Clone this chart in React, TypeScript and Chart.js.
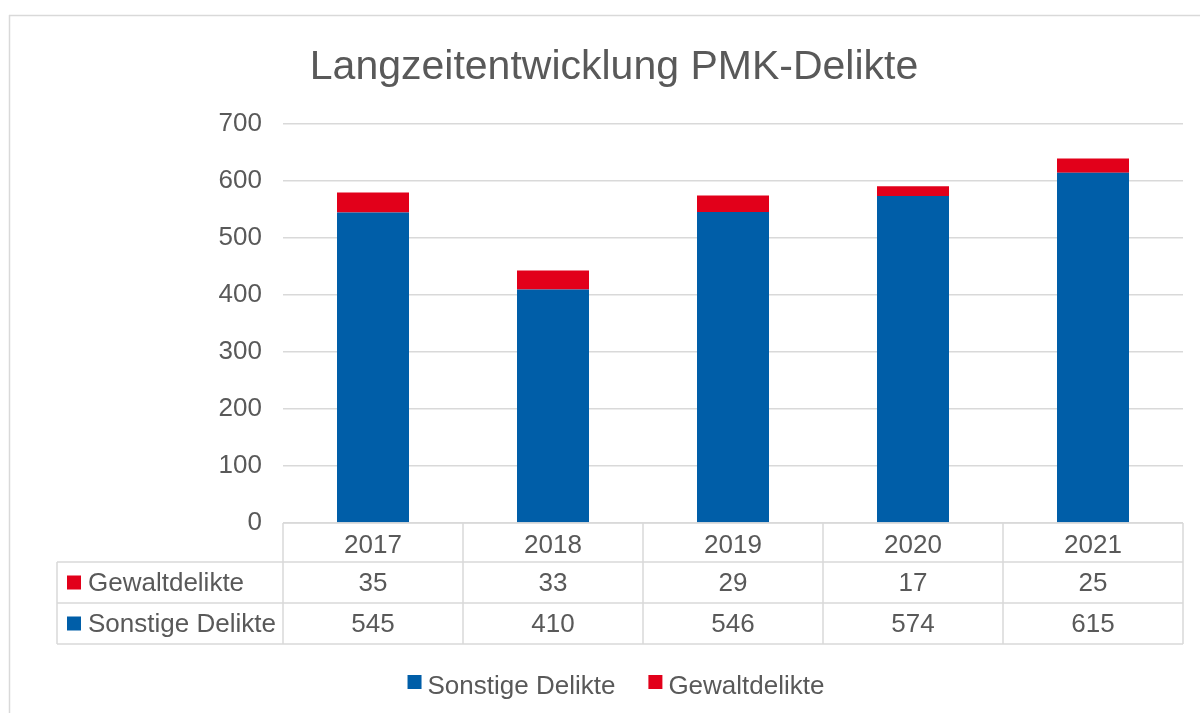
import React, { useEffect, useRef } from "react";
import { Chart, registerables } from "chart.js";

Chart.register(...registerables);

const years = ["2017", "2018", "2019", "2020", "2021"];
const sonstigeDelikte = [545, 410, 546, 574, 615];
const gewaltdelikte = [35, 33, 29, 17, 25];
const yMin = 0;
const yMax = 700;
const yStep = 100;

const seriesNames = { sonstige: "Sonstige Delikte", gewalt: "Gewaltdelikte" };
const titleText = "Langzeitentwicklung PMK-Delikte";

const BLUE = "#005EA8";
const RED = "#E2001A";
const TEXT = "#595959";
const GRID = "#D9D9D9";
const FONT = "'Liberation Sans', Arial, Helvetica, sans-serif";
const FS = 26;

const tablePlugin = {
  id: "dataTable",
  beforeDraw(chart: any) {
    const ctx = chart.ctx;
    ctx.save();
    ctx.fillStyle = "#ffffff";
    ctx.fillRect(0, 0, chart.width, chart.height);
    ctx.strokeStyle = GRID;
    ctx.lineWidth = 1.5;
    ctx.beginPath();
    ctx.moveTo(9, 15.5);
    ctx.lineTo(chart.width, 15.5);
    ctx.moveTo(9.5, 15);
    ctx.lineTo(9.5, chart.height);
    ctx.stroke();
    ctx.restore();
  },
  afterDraw(chart: any) {
    const ctx = chart.ctx;
    const xs = chart.scales.x;
    const area = chart.chartArea;
    const n = years.length;
    const half = (xs.getPixelForValue(1) - xs.getPixelForValue(0)) / 2;
    const top = area.bottom;
    const r1 = top + 39;
    const r2 = r1 + 41;
    const r3 = r2 + 41;
    const labelLeft = 57;

    ctx.save();
    ctx.strokeStyle = GRID;
    ctx.lineWidth = 1.5;
    ctx.beginPath();
    ctx.moveTo(area.left, top);
    ctx.lineTo(area.right, top);
    [r1, r2, r3].forEach((y) => {
      ctx.moveTo(labelLeft, y);
      ctx.lineTo(area.right, y);
    });
    for (let i = 0; i < n; i++) {
      const bx = xs.getPixelForValue(i) - half;
      ctx.moveTo(bx, top);
      ctx.lineTo(bx, r3);
    }
    const lastX = xs.getPixelForValue(n - 1) + half;
    ctx.moveTo(lastX, top);
    ctx.lineTo(lastX, r3);
    ctx.moveTo(labelLeft, r1);
    ctx.lineTo(labelLeft, r3);
    ctx.stroke();

    ctx.fillStyle = TEXT;
    ctx.font = `${FS}px ${FONT}`;
    ctx.textBaseline = "middle";
    ctx.textAlign = "center";
    const rows = [
      { y: (top + r1) / 2 + 3, vals: years },
      { y: (r1 + r2) / 2 + 1, vals: gewaltdelikte.map(String) },
      { y: (r2 + r3) / 2 + 1, vals: sonstigeDelikte.map(String) },
    ];
    rows.forEach((row) => {
      row.vals.forEach((v, i) => {
        ctx.fillText(v, xs.getPixelForValue(i), row.y);
      });
    });
    ctx.textAlign = "left";
    const rowLabels = [
      { y: rows[1].y, color: RED, text: seriesNames.gewalt },
      { y: rows[2].y, color: BLUE, text: seriesNames.sonstige },
    ];
    rowLabels.forEach((rl) => {
      ctx.fillStyle = rl.color;
      ctx.fillRect(67, rl.y - 8, 14, 14);
      ctx.fillStyle = TEXT;
      ctx.fillText(rl.text, 88, rl.y);
    });

    const items = [
      { color: BLUE, text: seriesNames.sonstige },
      { color: RED, text: seriesNames.gewalt },
    ];
    const box = 14;
    const gapBox = 6;
    const gapItem = 33;
    const widths = items.map((it) => box + gapBox + ctx.measureText(it.text).width);
    const total = widths[0] + widths[1] + gapItem;
    let lx = 616 - total / 2;
    const ly = 687;
    items.forEach((it, i) => {
      ctx.fillStyle = it.color;
      ctx.fillRect(lx, ly - 12, box, box);
      ctx.fillStyle = TEXT;
      ctx.fillText(it.text, lx + box + gapBox, ly);
      lx += widths[i] + gapItem;
    });
    ctx.restore();
  },
};

export default function App() {
  const ref = useRef<HTMLCanvasElement | null>(null);

  useEffect(() => {
    if (!ref.current) return;
    const chart = new Chart(ref.current, {
      type: "bar",
      data: {
        labels: years,
        datasets: [
          {
            label: seriesNames.sonstige,
            data: sonstigeDelikte,
            backgroundColor: BLUE,
            borderWidth: 0,
          },
          {
            label: seriesNames.gewalt,
            data: gewaltdelikte,
            backgroundColor: RED,
            borderWidth: 0,
          },
        ],
      },
      options: {
        responsive: false,
        animation: false,
        layout: { padding: { left: 45, right: 17, top: 0, bottom: 69 } },
        datasets: {
          bar: { barPercentage: 0.4, categoryPercentage: 1.0 },
        },
        plugins: {
          legend: { display: false },
          tooltip: { enabled: false },
          title: {
            display: true,
            text: titleText,
            color: TEXT,
            font: { family: FONT, size: 41, weight: "normal" },
            padding: { top: 43, bottom: 32 },
          },
        },
        scales: {
          x: {
            stacked: true,
            grid: { display: false },
            border: { display: false },
            ticks: { display: false },
            afterFit: (scale: any) => {
              scale.height = 121;
            },
          },
          y: {
            stacked: true,
            min: yMin,
            max: yMax,
            ticks: {
              stepSize: yStep,
              color: TEXT,
              font: { family: FONT, size: FS },
              padding: 21,
            },
            grid: { color: GRID, lineWidth: 1.5, drawTicks: false },
            border: { display: false },
            afterFit: (scale: any) => {
              scale.width = 238;
            },
          },
        },
      },
      plugins: [tablePlugin],
    });
    return () => chart.destroy();
  }, []);

  return (
    <div style={{ position: "absolute", left: 0, top: 0, width: 1200, height: 713 }}>
      <canvas ref={ref} width={1200} height={713} style={{ width: 1200, height: 713, display: "block" }} />
    </div>
  );
}
